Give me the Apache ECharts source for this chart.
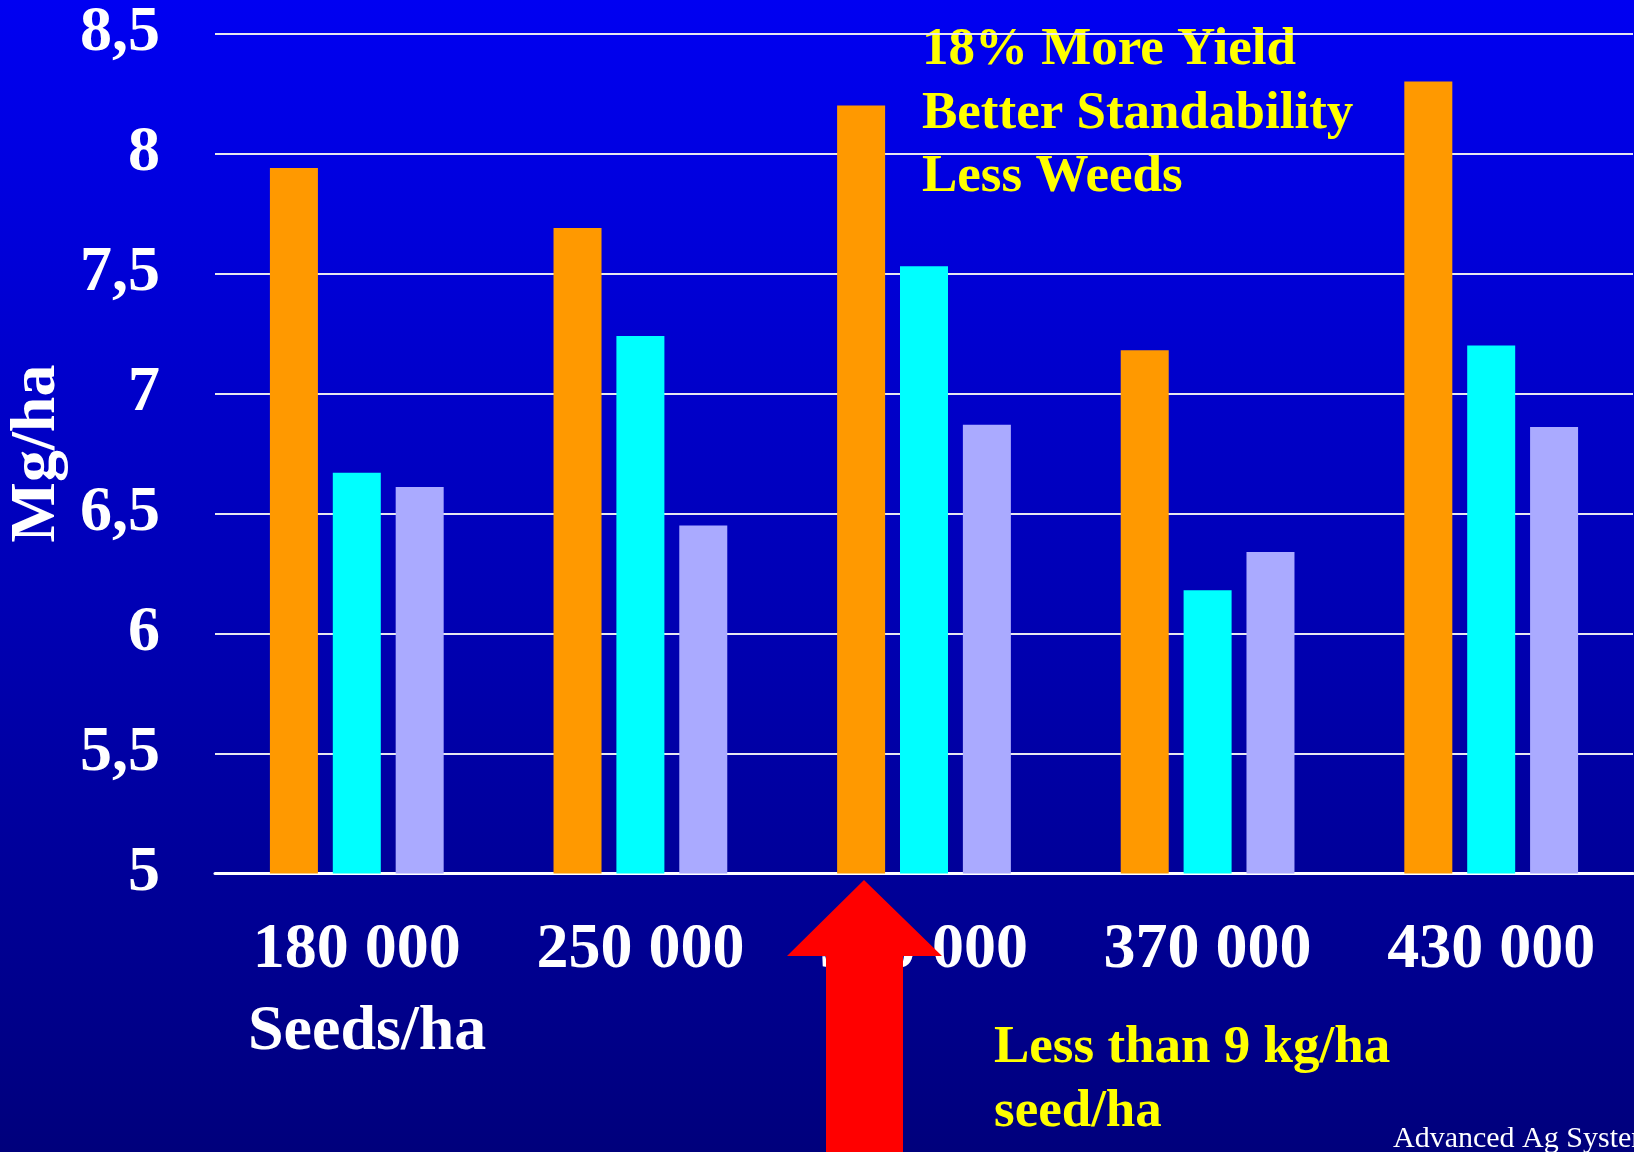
<!DOCTYPE html>
<html>
<head>
<meta charset="utf-8">
<script src="https://cdn.jsdelivr.net/npm/echarts@6/dist/echarts.min.js"></script>
<style>
  html, body { margin: 0; padding: 0; background: #000080; }
  #chart { width: 1634px; height: 1152px; }
</style>
</head>
<body>
<div id="chart"></div>
<script>
// Seeding rate trial: yield (Mg/ha) per sowing density
const categories = ['180 000', '250 000', '300 000', '370 000', '430 000'];
const orangeValues = [7.94, 7.69, 8.20, 7.18, 8.30];
const cyanValues = [6.67, 7.24, 7.53, 6.18, 7.20];
const lavenderValues = [6.61, 6.45, 6.87, 6.34, 6.86];
const yMin = 5;
const yMax = 8.5;
const yStep = 0.5;

const serif = "'Liberation Serif', 'Times New Roman', serif";

const chart = echarts.init(document.getElementById('chart'));

function bar(name, values, color) {
  return {
    name: name,
    type: 'bar',
    data: values,
    barWidth: 48,
    barGap: '31%',
    itemStyle: { color: color },
    z: 3
  };
}

chart.setOption({
  animation: false,
  backgroundColor: {
    type: 'linear', x: 0, y: 0, x2: 0, y2: 1,
    colorStops: [
      { offset: 0, color: '#0000F2' },
      { offset: 1, color: '#00007C' }
    ]
  },
  grid: {
    left: 215, right: 1, top: 33.5, bottom: 278.5,
    containLabel: false,
    outerBoundsMode: 'none'
  },
  xAxis: {
    type: 'category',
    data: categories,
    axisTick: { show: false },
    axisLine: { show: true, lineStyle: { color: '#FFFFFF', width: 3 } },
    axisLabel: {
      color: '#FFFFFF',
      fontFamily: serif,
      fontWeight: 'bold',
      fontSize: 64,
      lineHeight: 64,
      margin: 45,
      interval: 0
    }
  },
  yAxis: {
    type: 'value',
    min: yMin,
    max: yMax,
    interval: yStep,
    name: 'Mg/ha',
    nameLocation: 'middle',
    nameRotate: 90,
    nameGap: 138,
    nameTextStyle: {
      color: '#FFFFFF',
      fontFamily: serif,
      fontWeight: 'bold',
      fontSize: 64
    },
    axisLine: { show: false },
    axisTick: { show: false },
    splitLine: { lineStyle: { color: '#E6E6F0', width: 2 } },
    axisLabel: {
      color: '#FFFFFF',
      fontFamily: serif,
      fontWeight: 'bold',
      fontSize: 64,
      margin: 55,
      formatter: function (v) { return String(v).replace('.', ','); }
    }
  },
  series: [
    bar('orange', orangeValues, '#FF9900'),
    bar('cyan', cyanValues, '#00FFFF'),
    bar('lavender', lavenderValues, '#AAAAFF')
  ],
  graphic: [
    {
      type: 'text',
      left: 248, top: 1000,
      style: {
        text: 'Seeds/ha',
        fill: '#FFFFFF',
        font: 'bold 64px ' + serif
      }
    },
    {
      type: 'text',
      left: 922, top: 19,
      style: {
        text: '18% More Yield\nBetter Standability\nLess Weeds',
        fill: '#FFFF00',
        font: 'bold 53px ' + serif,
        lineHeight: 63.5,
        textShadowColor: 'rgba(0,0,0,0.55)',
        textShadowOffsetX: 2,
        textShadowOffsetY: 2
      }
    },
    {
      type: 'text',
      left: 994, top: 1016,
      style: {
        text: 'Less than 9 kg/ha\nseed/ha',
        fill: '#FFFF00',
        font: 'bold 53px ' + serif,
        lineHeight: 64,
        textShadowColor: 'rgba(0,0,0,0.55)',
        textShadowOffsetX: 2,
        textShadowOffsetY: 2
      }
    },
    {
      type: 'text',
      left: 1393, top: 1124,
      style: {
        text: 'Advanced Ag Systems',
        fill: '#FFFFFF',
        font: '30px ' + serif
      }
    },
    {
      // red arrow pointing up at the 300 000 seeds/ha orange bar
      type: 'polygon',
      z: 100,
      shape: {
        points: [
          [864, 880], [942, 956], [903, 956], [903, 1152],
          [826, 1152], [826, 956], [787, 956]
        ]
      },
      style: { fill: '#FF0000' }
    }
  ]
});
</script>
</body>
</html>
